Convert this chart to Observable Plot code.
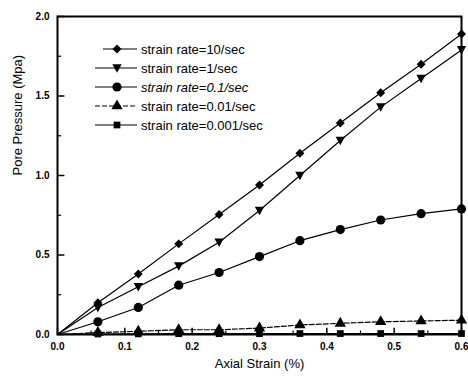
<!DOCTYPE html>
<html><head><meta charset="utf-8">
<script src="https://cdn.jsdelivr.net/npm/d3@7"></script>
<script src="https://cdn.jsdelivr.net/npm/@observablehq/plot@0.6"></script>
<style>
body{margin:0;background:#fff;}
#wrap{position:relative;width:468px;height:379px;font-family:"Liberation Sans",Arial,sans-serif;}
#legend{position:absolute;left:0;top:0;}
</style>
</head><body><div id="wrap"></div>
<script>
const strain = [0, 0.06, 0.12, 0.18, 0.24, 0.30, 0.36, 0.42, 0.48, 0.54, 0.60];
const rate10   = [0, 0.20, 0.38, 0.57, 0.755, 0.94, 1.14, 1.33, 1.52, 1.70, 1.89];
const rate1    = [0, 0.17, 0.30, 0.43, 0.58, 0.78, 1.00, 1.22, 1.43, 1.61, 1.79];
const rate01   = [0, 0.08, 0.17, 0.31, 0.39, 0.49, 0.59, 0.66, 0.72, 0.76, 0.79];
const rate001  = [0, 0.012, 0.02, 0.03, 0.03, 0.04, 0.06, 0.07, 0.08, 0.085, 0.09];
const rate0001 = [0, 0.003, 0.004, 0.005, 0.005, 0.005, 0.006, 0.006, 0.006, 0.006, 0.006];
const seriesNames = ["strain rate=10/sec","strain rate=1/sec","strain rate=0.1/sec","strain rate=0.01/sec","strain rate=0.001/sec"];
const xTicks = [0, 0.1, 0.2, 0.3, 0.4, 0.5, 0.6];
const yTicks = [0, 0.5, 1.0, 1.5, 2.0];
const xMinor = [0.05, 0.15, 0.25, 0.35, 0.45, 0.55];
const yMinor = [0.25, 0.75, 1.25, 1.75];

const triDown = {draw(ctx, size){const h=Math.sqrt(size*1.3);ctx.moveTo(-h/2*1.1,-h*0.45);ctx.lineTo(h/2*1.1,-h*0.45);ctx.lineTo(0,h*0.55);ctx.closePath();}};
const diamond = {draw(ctx, size){const a=Math.sqrt(size/2)*0.85;ctx.moveTo(0,-a);ctx.lineTo(a,0);ctx.lineTo(0,a);ctx.lineTo(-a,0);ctx.closePath();}};
const symbols = [diamond, triDown, d3.symbolCircle, d3.symbolTriangle, d3.symbolSquare];
const sizes = [4.2, 4.2, 4.6, 4.2, 3.8];
const dashes = [null, null, null, "5,2", null];
const allVals = [rate10, rate1, rate01, rate001, rate0001];
const data = [];
allVals.forEach((arr, s) => arr.forEach((v, i) => data.push({s, x: strain[i], y: v})));

const marks = [];
allVals.forEach((arr, s) => {
  const d = data.filter(e => e.s === s);
  marks.push(Plot.line(d, {x: "x", y: "y", stroke: "black", strokeWidth: 1.2, strokeDasharray: dashes[s]}));
  marks.push(Plot.dot(d.filter(e => e.x > 0), {x: "x", y: "y", symbol: () => symbols[s], r: sizes[s], fill: "black", stroke: "none"}));
});

const plot = Plot.plot({
  width: 468, height: 379,
  marginLeft: 57, marginRight: 7, marginTop: 16, marginBottom: 45,
  style: {fontFamily: "Liberation Sans, Arial, sans-serif", background: "white"},
  x: {domain: [0, 0.6]},
  y: {domain: [0, 2.0]},
  marks: [
    Plot.ruleX(xTicks, {x: d => d, y1: 0, y2: 0.04, stroke: "black", strokeWidth: 1.5}),
    Plot.ruleX(xMinor, {x: d => d, y1: 0, y2: 0.022, stroke: "black", strokeWidth: 1.2}),
    Plot.ruleY(yTicks, {y: d => d, x1: 0, x2: 0.011, stroke: "black", strokeWidth: 1.5}),
    Plot.ruleY(yMinor, {y: d => d, x1: 0, x2: 0.006, stroke: "black", strokeWidth: 1.2}),
    Plot.axisX(xTicks, {tickSize: 0, tickPadding: 8, tickFormat: d3.format(".1f"), fontSize: 10, fontWeight: "bold", label: null}),
    Plot.axisY(yTicks, {tickSize: 0, tickPadding: 8, tickFormat: d3.format(".1f"), fontSize: 10, fontWeight: "bold", label: null}),
    Plot.text(["Axial Strain (%)"], {frameAnchor: "bottom", dy: 33, fontSize: 13, text: d => d}),
    Plot.text(["Pore Pressure (Mpa)"], {frameAnchor: "left", dx: -40, rotate: -90, fontSize: 13, text: d => d}),
    ...marks,
    Plot.frame({stroke: "black", strokeWidth: 2})
  ]
});
document.getElementById("wrap").appendChild(plot);

// Legend overlay
const leg = d3.select("#wrap").append("svg").attr("id", "legend").attr("width", 468).attr("height", 379);
seriesNames.forEach((name, i) => {
  const y = 49 + i * 19;
  const g = leg.append("g");
  g.append("line").attr("x1", i === 0 ? 103 : 95).attr("x2", 137).attr("y1", y).attr("y2", y)
    .attr("stroke", "black").attr("stroke-width", 1.2).attr("stroke-dasharray", dashes[i] || null);
  g.append("path").attr("d", d3.symbol(symbols[i], sizes[i]*sizes[i]*Math.PI)()).attr("transform", `translate(117,${y})`).attr("fill", "black");
  g.append("text").attr("x", 141).attr("y", y + 4.5).attr("font-size", 13).attr("font-style", i === 2 ? "italic" : null)
    .attr("font-family", "Liberation Sans, Arial, sans-serif").text(name);
});
</script></body></html>
